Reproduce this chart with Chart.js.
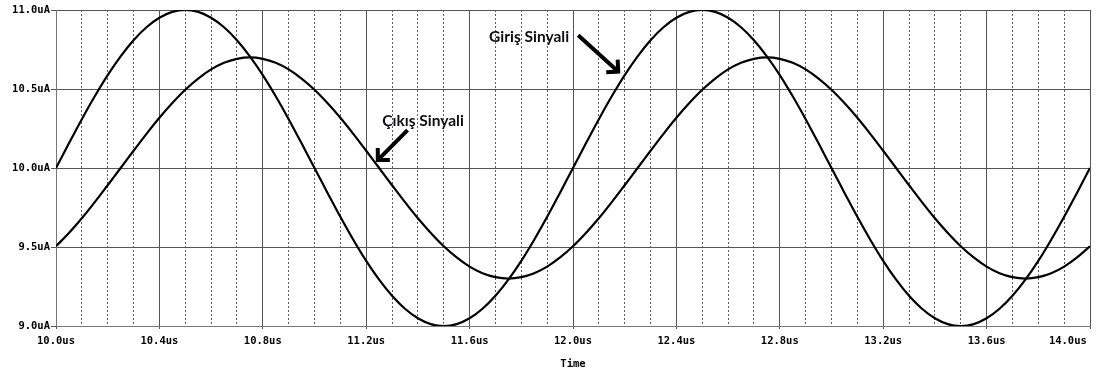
<!DOCTYPE html>
<html>
<head>
<meta charset="utf-8">
<script src="https://cdn.jsdelivr.net/npm/chart.js@4.4.1/dist/chart.umd.min.js"></script>
<style>
  html, body { margin: 0; padding: 0; background: #ffffff; }
  #wrap { width: 1104px; height: 376px; }
</style>
</head>
<body>
<div id="wrap"><canvas id="c" width="1104" height="376"></canvas></div>
<script>
// Time samples (us)
const timeUs = [
  10.00, 10.05, 10.10, 10.15, 10.20, 10.25, 10.30, 10.35, 10.40, 10.45,
  10.50, 10.55, 10.60, 10.65, 10.70, 10.75, 10.80, 10.85, 10.90, 10.95,
  11.00, 11.05, 11.10, 11.15, 11.20, 11.25, 11.30, 11.35, 11.40, 11.45,
  11.50, 11.55, 11.60, 11.65, 11.70, 11.75, 11.80, 11.85, 11.90, 11.95,
  12.00, 12.05, 12.10, 12.15, 12.20, 12.25, 12.30, 12.35, 12.40, 12.45,
  12.50, 12.55, 12.60, 12.65, 12.70, 12.75, 12.80, 12.85, 12.90, 12.95,
  13.00, 13.05, 13.10, 13.15, 13.20, 13.25, 13.30, 13.35, 13.40, 13.45,
  13.50, 13.55, 13.60, 13.65, 13.70, 13.75, 13.80, 13.85, 13.90, 13.95,
  14.00
];

// Input signal (uA)
const girisSinyali = [
  10.000, 10.156, 10.309, 10.454, 10.588, 10.707, 10.809, 10.891, 10.951, 10.988,
  11.000, 10.988, 10.951, 10.891, 10.809, 10.707, 10.588, 10.454, 10.309, 10.156,
  10.000,  9.844,  9.691,  9.546,  9.412,  9.293,  9.191,  9.109,  9.049,  9.012,
   9.000,  9.012,  9.049,  9.109,  9.191,  9.293,  9.412,  9.546,  9.691,  9.844,
  10.000, 10.156, 10.309, 10.454, 10.588, 10.707, 10.809, 10.891, 10.951, 10.988,
  11.000, 10.988, 10.951, 10.891, 10.809, 10.707, 10.588, 10.454, 10.309, 10.156,
  10.000,  9.844,  9.691,  9.546,  9.412,  9.293,  9.191,  9.109,  9.049,  9.012,
   9.000,  9.012,  9.049,  9.109,  9.191,  9.293,  9.412,  9.546,  9.691,  9.844,
  10.000
];

// Output signal (uA)
const cikisSinyali = [
   9.505,  9.589,  9.682,  9.784,  9.891, 10.000, 10.109, 10.216, 10.318, 10.411,
  10.495, 10.566, 10.624, 10.666, 10.691, 10.700, 10.691, 10.666, 10.624, 10.566,
  10.495, 10.411, 10.318, 10.216, 10.109, 10.000,  9.891,  9.784,  9.682,  9.589,
   9.505,  9.434,  9.376,  9.334,  9.309,  9.300,  9.309,  9.334,  9.376,  9.434,
   9.505,  9.589,  9.682,  9.784,  9.891, 10.000, 10.109, 10.216, 10.318, 10.411,
  10.495, 10.566, 10.624, 10.666, 10.691, 10.700, 10.691, 10.666, 10.624, 10.566,
  10.495, 10.411, 10.318, 10.216, 10.109, 10.000,  9.891,  9.784,  9.682,  9.589,
   9.505,  9.434,  9.376,  9.334,  9.309,  9.300,  9.309,  9.334,  9.376,  9.434,
   9.505
];

// Axis ranges and tick steps
const xRange = [10.0, 14.0];
const yRange = [9.0, 11.0];
const xMajorStep = 0.4;
const xMinorStep = 0.1;
const yStep = 0.5;

// Callout labels: text anchor and arrow (tail -> tip), in data units
const callouts = [
  { text: 'Giriş Sinyali', at: [11.83, 10.80], tail: [12.02, 10.84], tip: [12.175, 10.61] },
  { text: 'Çıkış Sinyali', at: [11.42, 10.265], tail: [11.36, 10.24], tip: [11.245, 10.05] }
];

const axisFont = { family: '"DejaVu Sans Mono", monospace', size: 10.5, weight: 'bold' };

const toPoints = (ys) => ys.map((y, i) => ({ x: timeUs[i], y }));

const calloutPlugin = {
  id: 'callouts',
  afterDatasetsDraw(chart) {
    const { ctx, scales } = chart;
    const xs = scales.x, ys = scales.y;
    ctx.save();
    ctx.fillStyle = '#0d0d14';
    ctx.strokeStyle = '#000000';
    ctx.font = 'bold 15.5px Lato, "Open Sans", sans-serif';
    ctx.textAlign = 'center';
    ctx.textBaseline = 'alphabetic';
    callouts.forEach(c => {
      ctx.fillText(c.text, xs.getPixelForValue(c.at[0]), ys.getPixelForValue(c.at[1]));
      const x0 = xs.getPixelForValue(c.tail[0]), y0 = ys.getPixelForValue(c.tail[1]);
      const x1 = xs.getPixelForValue(c.tip[0]), y1 = ys.getPixelForValue(c.tip[1]);
      const ang = Math.atan2(y1 - y0, x1 - x0);
      const head = 12;
      ctx.lineWidth = 4;
      ctx.lineCap = 'butt';
      ctx.lineJoin = 'miter';
      ctx.beginPath();
      ctx.moveTo(x0, y0);
      ctx.lineTo(x1 - Math.cos(ang) * 2, y1 - Math.sin(ang) * 2);
      ctx.stroke();
      ctx.beginPath();
      ctx.moveTo(x1 - head * Math.cos(ang - Math.PI / 4), y1 - head * Math.sin(ang - Math.PI / 4));
      ctx.lineTo(x1, y1);
      ctx.lineTo(x1 - head * Math.cos(ang + Math.PI / 4), y1 - head * Math.sin(ang + Math.PI / 4));
      ctx.stroke();
    });
    ctx.restore();
  }
};

new Chart(document.getElementById('c'), {
  type: 'line',
  data: {
    datasets: [
      {
        label: 'Giriş Sinyali',
        data: toPoints(girisSinyali),
        borderColor: '#000000',
        borderWidth: 2.2,
        pointRadius: 0,
        tension: 0.4,
        fill: false
      },
      {
        label: 'Çıkış Sinyali',
        data: toPoints(cikisSinyali),
        borderColor: '#000000',
        borderWidth: 2.2,
        pointRadius: 0,
        tension: 0.4,
        fill: false
      }
    ]
  },
  options: {
    responsive: false,
    animation: false,
    events: [],
    layout: { padding: { top: 10, right: 14, left: 0, bottom: 0 } },
    plugins: { legend: { display: false }, tooltip: { enabled: false } },
    scales: {
      xMinor: {
        type: 'linear',
        position: 'top',
        min: xRange[0], max: xRange[1],
        ticks: { display: false, stepSize: xMinorStep },
        grid: {
          drawTicks: false,
          lineWidth: 1,
          color: (ctx) => (ctx.index % 4 === 0 ? 'rgba(0,0,0,0)' : '#5a5a5a')
        },
        border: { display: false, dash: [2, 2] },
        afterFit: (s) => { s.height = 0; }
      },
      x: {
        type: 'linear',
        position: 'bottom',
        min: xRange[0], max: xRange[1],
        ticks: {
          stepSize: xMajorStep,
          color: '#000000',
          font: axisFont,
          padding: 6,
          maxRotation: 0,
          autoSkip: false,
          // the last label is pulled left so it stays inside the frame
          callback: (v) => v.toFixed(1) + 'us' + (Math.abs(v - xRange[1]) < 1e-6 ? '       ' : '')
        },
        grid: { color: '#555555', lineWidth: 1, tickLength: 3, tickColor: '#555555' },
        border: { display: true, color: '#777777', width: 1 },
        title: {
          display: true,
          text: 'Time',
          color: '#000000',
          font: axisFont,
          padding: { top: 0, bottom: 5 }
        },
        afterFit: (s) => { s.height = 50; s.paddingLeft = 0; s.paddingRight = 0; }
      },
      y: {
        type: 'linear',
        min: yRange[0], max: yRange[1],
        ticks: {
          stepSize: yStep,
          color: '#000000',
          font: axisFont,
          padding: 1,
          callback: (v) => v.toFixed(1) + 'uA'
        },
        grid: { color: '#555555', lineWidth: 1, tickLength: 5, tickColor: '#555555' },
        border: { display: true, color: '#777777', width: 1 },
        afterFit: (s) => { s.width = 56; }
      }
    }
  },
  plugins: [calloutPlugin]
});
</script>
</body>
</html>
